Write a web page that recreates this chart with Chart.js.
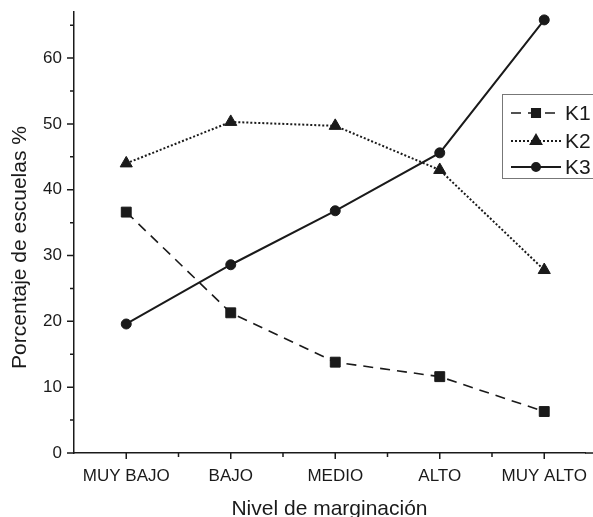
<!DOCTYPE html>
<html>
<head>
<meta charset="utf-8">
<script src="https://cdn.jsdelivr.net/npm/chart.js@4"></script>
<style>body{margin:0;background:#fff}</style>
</head>
<body>
<canvas id="chart" width="593" height="517"></canvas>
<script>
const categories = ['MUY BAJO', 'BAJO', 'MEDIO', 'ALTO', 'MUY ALTO'];
const k1 = [36.6, 21.3, 13.8, 11.6, 6.3];
const k2 = [44.0, 50.3, 49.7, 43.0, 27.8];
const k3 = [19.6, 28.6, 36.8, 45.6, 65.8];
const yTicks = [0, 10, 20, 30, 40, 50, 60];
const yMax = 67;

const FONT = '"Liberation Sans", Arial, sans-serif';
const ink = '#1a1a1a';

const toPoints = (vals) => vals.map((v, i) => ({ x: i, y: v }));

// short minor ticks + long major ticks, outside the axes, plus the y title
const axisExtras = {
  id: 'axisExtras',
  afterDraw(chart) {
    const { ctx, chartArea, scales: { x, y } } = chart;
    ctx.save();
    ctx.strokeStyle = ink;
    ctx.lineWidth = 1.5;
    ctx.beginPath();
    for (let v = 0; v <= yMax; v += 5) {
      const py = y.getPixelForValue(v);
      const len = v % 10 === 0 ? 7 : 4;
      ctx.moveTo(chartArea.left - len, py);
      ctx.lineTo(chartArea.left, py);
    }
    for (let i = 0; i < categories.length; i += 0.5) {
      const px = x.getPixelForValue(i);
      const len = Number.isInteger(i) ? 6 : 4;
      ctx.moveTo(px, chartArea.bottom);
      ctx.lineTo(px, chartArea.bottom + len);
    }
    // carry the x axis line on to the page edge
    ctx.moveTo(chartArea.right, chartArea.bottom);
    ctx.lineTo(chart.width, chartArea.bottom);
    ctx.stroke();

    ctx.fillStyle = ink;
    ctx.font = '21px ' + FONT;
    ctx.textAlign = 'center';
    ctx.textBaseline = 'middle';
    ctx.translate(20, (chartArea.top + chartArea.bottom) / 2 + 15);
    ctx.rotate(-Math.PI / 2);
    ctx.fillText('Porcentaje de escuelas %', 0, 0);
    ctx.restore();
  }
};

// boxed legend inside the plot, top right
const boxLegend = {
  id: 'boxLegend',
  afterDraw(chart) {
    const { ctx } = chart;
    ctx.save();
    ctx.strokeStyle = '#777';
    ctx.lineWidth = 1;
    ctx.strokeRect(502.5, 94.5, 120, 84);
    const rows = [113, 141, 167];
    chart.data.datasets.forEach((ds, i) => {
      const yy = rows[i];
      ctx.strokeStyle = ink;
      ctx.lineWidth = ds.borderWidth;
      ctx.setLineDash(ds.borderDash || []);
      ctx.beginPath();
      ctx.moveTo(511, yy);
      ctx.lineTo(561, yy);
      ctx.stroke();
      ctx.setLineDash([]);
      ctx.fillStyle = ink;
      Chart.helpers.drawPoint(ctx, {
        pointStyle: ds.pointStyle,
        radius: ds.pointRadius - 1,
        rotation: 0,
        borderWidth: 1
      }, 536, yy);
      ctx.font = '21px ' + FONT;
      ctx.textAlign = 'left';
      ctx.textBaseline = 'middle';
      ctx.fillText(ds.label, 565, yy + 1);
    });
    ctx.restore();
  }
};

new Chart(document.getElementById('chart'), {
  type: 'line',
  data: {
    datasets: [
      {
        label: 'K1',
        data: toPoints(k1),
        borderColor: ink,
        backgroundColor: ink,
        borderWidth: 1.6,
        borderDash: [10, 7],
        pointStyle: 'rect',
        pointRadius: 7,
        pointBorderWidth: 1
      },
      {
        label: 'K2',
        data: toPoints(k2),
        borderColor: ink,
        backgroundColor: ink,
        borderWidth: 2,
        borderDash: [2, 2],
        pointStyle: 'triangle',
        pointRadius: 7,
        pointBorderWidth: 1
      },
      {
        label: 'K3',
        data: toPoints(k3),
        borderColor: ink,
        backgroundColor: ink,
        borderWidth: 2,
        pointStyle: 'circle',
        pointRadius: 5,
        pointBorderWidth: 1
      }
    ]
  },
  options: {
    responsive: false,
    animation: false,
    clip: false,
    layout: { padding: { top: 12, right: 0, left: 0, bottom: 0 } },
    plugins: {
      legend: { display: false },
      tooltip: { enabled: false }
    },
    scales: {
      x: {
        type: 'linear',
        bounds: 'data',
        min: -0.5,
        max: 4.39,
        afterBuildTicks: (s) => { s.ticks = categories.map((_, i) => ({ value: i })); },
        afterFit: (s) => { s.height = 64; s.paddingLeft = 0; s.paddingRight = 0; },
        grid: { display: false, drawTicks: false },
        border: { display: true, color: ink, width: 1.5 },
        ticks: {
          callback: (v) => categories[v],
          autoSkip: false,
          maxRotation: 0,
          padding: 13,
          color: ink,
          font: { family: FONT, size: 17 }
        },
        title: {
          display: true,
          text: 'Nivel de marginación',
          color: ink,
          padding: 0,
          font: { family: FONT, size: 21, lineHeight: 0.7 }
        }
      },
      y: {
        min: 0,
        max: yMax,
        afterBuildTicks: (s) => { s.ticks = yTicks.map((v) => ({ value: v })); },
        afterFit: (s) => { s.width = 74; s.paddingTop = 0; s.paddingBottom = 0; },
        grid: { display: false, drawTicks: false },
        border: { display: true, color: ink, width: 1.5 },
        ticks: {
          padding: 12,
          color: ink,
          font: { family: FONT, size: 17 }
        }
      }
    }
  },
  plugins: [axisExtras, boxLegend]
});
</script>
</body>
</html>
